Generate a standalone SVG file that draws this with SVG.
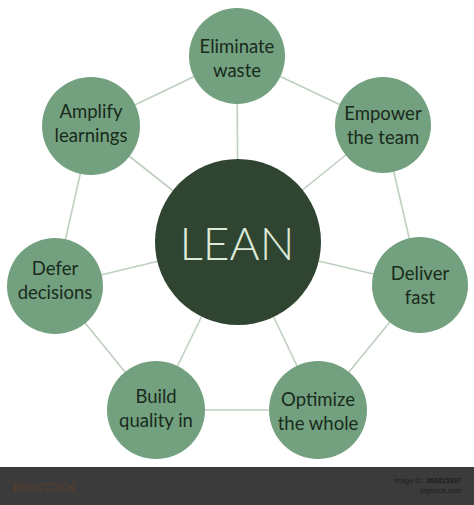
<svg xmlns="http://www.w3.org/2000/svg" width="474" height="505" viewBox="0 0 474 505">
<style>
.edge{stroke:#bfcfbf;stroke-width:1.6;fill:none}
.node circle{fill:#73a07e}
.lbl{font-family:Lato,"Open Sans","Liberation Sans",sans-serif;font-size:18.5px;fill:#182b1c;text-anchor:middle}
.center circle{fill:#2f4531}
.lean{font-family:Lato,"Open Sans","Liberation Sans",sans-serif;font-size:46px;font-weight:300;fill:#dde9d8;text-anchor:middle}
</style>
<rect width="474" height="505" fill="#ffffff"/>
<g id="connectors">
<line class="edge" x1="237" y1="56" x2="383" y2="125"/>
<line class="edge" x1="383" y1="125" x2="420" y2="285"/>
<line class="edge" x1="420" y1="285" x2="318" y2="410"/>
<line class="edge" x1="318" y1="410" x2="156" y2="410"/>
<line class="edge" x1="156" y1="410" x2="55" y2="286"/>
<line class="edge" x1="55" y1="286" x2="91" y2="126"/>
<line class="edge" x1="91" y1="126" x2="237" y2="56"/>
<line class="edge" x1="238" y1="242" x2="237" y2="56"/>
<line class="edge" x1="238" y1="242" x2="383" y2="125"/>
<line class="edge" x1="238" y1="242" x2="420" y2="285"/>
<line class="edge" x1="238" y1="242" x2="318" y2="410"/>
<line class="edge" x1="238" y1="242" x2="156" y2="410"/>
<line class="edge" x1="238" y1="242" x2="55" y2="286"/>
<line class="edge" x1="238" y1="242" x2="91" y2="126"/>
</g>
<g id="lean" class="center">
<circle cx="238" cy="242" r="83"/>
<text class="lean" x="237" y="260">LEAN</text>
</g>
<g id="eliminate" class="node">
<circle cx="237" cy="56" r="48"/>
<text class="lbl" x="237" y="53">Eliminate</text>
<text class="lbl" x="237" y="77">waste</text>
</g>
<g id="empower" class="node">
<circle cx="383" cy="125" r="48"/>
<text class="lbl" x="383" y="120">Empower</text>
<text class="lbl" x="383" y="144">the team</text>
</g>
<g id="deliver" class="node">
<circle cx="420" cy="285" r="48"/>
<text class="lbl" x="420" y="280">Deliver</text>
<text class="lbl" x="420" y="304">fast</text>
</g>
<g id="optimize" class="node">
<circle cx="318" cy="410" r="49"/>
<text class="lbl" x="318" y="406">Optimize</text>
<text class="lbl" x="318" y="430">the whole</text>
</g>
<g id="build" class="node">
<circle cx="156" cy="410" r="49"/>
<text class="lbl" x="156" y="403">Build</text>
<text class="lbl" x="156" y="427">quality in</text>
</g>
<g id="defer" class="node">
<circle cx="55" cy="286" r="48"/>
<text class="lbl" x="55" y="275">Defer</text>
<text class="lbl" x="55" y="299">decisions</text>
</g>
<g id="amplify" class="node">
<circle cx="91" cy="126" r="49"/>
<text class="lbl" x="91" y="118">Amplify</text>
<text class="lbl" x="91" y="142">learnings</text>
</g>
<g id="footer">
<rect x="0" y="467" width="474" height="38" fill="#3b3b3b"/>
<text x="13" y="492" font-family="Liberation Sans,sans-serif" font-size="12" fill="#4f3d30" font-weight="bold">BIGSTOCK</text>
<text x="461" y="483" font-family="Liberation Sans,sans-serif" font-size="7" fill="#1e1e1e" text-anchor="end">Image ID: <tspan font-weight="bold">366315337</tspan></text>
<text x="461" y="493" font-family="Liberation Sans,sans-serif" font-size="7" fill="#1e1e1e" text-anchor="end">bigstock.com</text>
</g>
</svg>
